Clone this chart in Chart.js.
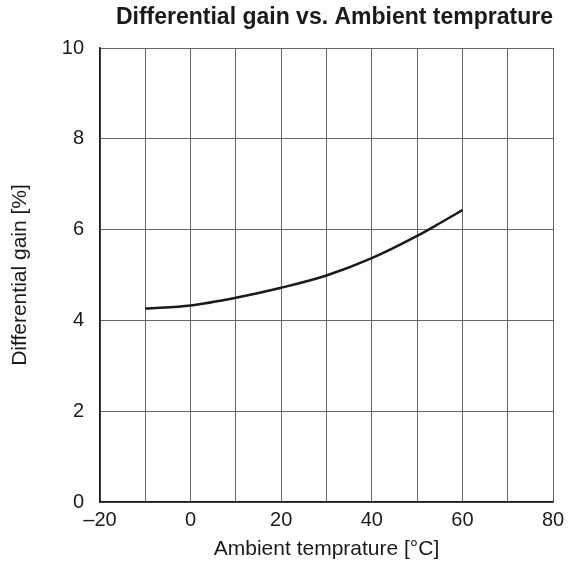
<!DOCTYPE html>
<html>
<head>
<meta charset="utf-8">
<script src="https://cdn.jsdelivr.net/npm/chart.js@4/dist/chart.umd.min.js"></script>
<style>
  body { margin: 0; background: #fff; }
  #wrap { width: 576px; height: 562px; }
</style>
</head>
<body>
<div id="wrap"><canvas id="gainChart"></canvas></div>
<script>
// Дані
const temps = [-10, 0, 10, 20, 30, 40, 50, 55, 60];
const gains = [4.26, 4.33, 4.50, 4.72, 4.99, 5.37, 5.86, 6.14, 6.43];
const xTickLabels = [-20, 0, 20, 40, 60, 80];
const yTickLabels = [0, 2, 4, 6, 8, 10];

const font = 'Liberation Sans, Arial, Helvetica, sans-serif';

const config = {
    type: 'line',
    data: {
        datasets: [{
            data: temps.map((t, i) => ({ x: t, y: gains[i] })),
            borderColor: '#1a1a1a',
            borderWidth: 2.5,
            pointRadius: 0,
            tension: 0.4,
            cubicInterpolationMode: 'monotone',
            fill: false
        }]
    },
    options: {
        responsive: true,
        maintainAspectRatio: false,
        animation: false,
        layout: { padding: { left: 0, right: 23, top: 0, bottom: 0 } },
        plugins: {
            legend: { display: false },
            tooltip: { enabled: false },
            title: {
                display: true,
                text: 'Differential gain vs. Ambient temprature',
                align: 'end',
                color: '#1a1a1a',
                font: { family: font, size: 23, weight: 'bold', lineHeight: 1.2 },
                padding: { top: 4, bottom: 16.4 }
            }
        },
        scales: {
            x: {
                type: 'linear',
                min: -20,
                max: 80,
                afterFit: s => { s.height = 60; },
                ticks: {
                    stepSize: 10,
                    autoSkip: false,
                    maxRotation: 0,
                    color: '#1a1a1a',
                    font: { family: font, size: 20 },
                    padding: 6,
                    callback: v => xTickLabels.includes(v) ? String(v).replace('-', '\u2013') : ''
                },
                grid: { color: '#666', lineWidth: 1, drawTicks: false },
                border: { color: '#1a1a1a', width: 1.5 },
                title: {
                    display: true,
                    text: 'Ambient temprature [°C]',
                    color: '#1a1a1a',
                    font: { family: font, size: 21 },
                    padding: { top: 2, bottom: 0 }
                }
            },
            y: {
                min: 0,
                max: 10,
                afterFit: s => { s.width = 100; },
                ticks: {
                    stepSize: 2,
                    color: '#1a1a1a',
                    font: { family: font, size: 20 },
                    padding: 16,
                    callback: v => yTickLabels.includes(v) ? String(v) : ''
                },
                grid: { color: '#666', lineWidth: 1, drawTicks: false },
                border: { color: '#1a1a1a', width: 1.5 },
                title: {
                    display: true,
                    text: 'Differential gain [%]',
                    color: '#1a1a1a',
                    font: { family: font, size: 21 },
                    padding: { top: 8, bottom: 0 }
                }
            }
        }
    }
};

const ctx = document.getElementById('gainChart').getContext('2d');
new Chart(ctx, config);
</script>
</body>
</html>
